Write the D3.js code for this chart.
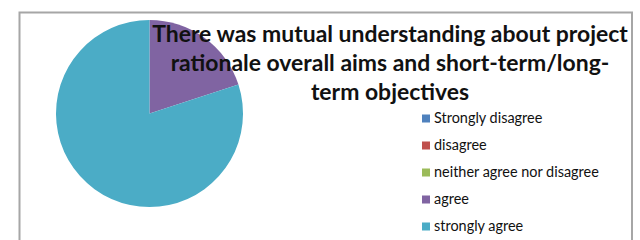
<!DOCTYPE html>
<html>
<head>
<meta charset="utf-8">
<script src="https://cdn.jsdelivr.net/npm/d3@7"></script>
<style>
body { margin: 0; background: #fff; }
svg { display: block; }
</style>
</head>
<body>
<script>
var categories = ["Strongly disagree", "disagree", "neither agree nor disagree", "agree", "strongly agree"];
var counts = [0, 0, 0, 2, 8];
var colors = ["#4F81BD", "#C0504D", "#9BBB59", "#8064A2", "#4BACC6"];
var titleLines = ["There was mutual understanding about project",
                  "rationale overall aims and short-term/long-",
                  "term objectives"];

var width = 640, height = 240;

var svg = d3.select("body").append("svg")
    .attr("width", width)
    .attr("height", height);

// chart frame (bottom edge falls outside the crop)
svg.append("path")
    .attr("d", "M19.5,260 V12.5 H632 V260")
    .attr("fill", "none")
    .attr("stroke", "#a6a6a6")
    .attr("stroke-width", 2);

var radius = 93.5;
var pieg = svg.append("g")
    .attr("transform", "translate(" + 149.5 + "," + 113.5 + ")");

var pie = d3.pie().sort(null).value(function(d) { return d; });
var arc = d3.arc().innerRadius(0).outerRadius(radius);

pieg.selectAll("path")
    .data(pie(counts))
    .enter().append("path")
    .attr("d", arc)
    .attr("fill", function(d, i) { return colors[i]; });

// title, drawn over the pie
var font = "Lato, 'Open Sans', sans-serif";
var titleg = svg.append("g");
var titleText = titleg.selectAll("text")
    .data(titleLines)
    .enter().append("text")
    .attr("x", 390)
    .attr("y", function(d, i) { return 41.5 + i * 29; })
    .attr("text-anchor", "middle")
    .attr("font-family", font)
    .attr("font-weight", "bold")
    .attr("font-size", 22)
    .attr("fill", "#111")
    .text(function(d) { return d; });

// fit first title line to ~476px
var w0 = titleText.node().getComputedTextLength();
titleText.attr("font-size", 22 * 476 / w0);

// legend
var legend = svg.append("g");
var rows = legend.selectAll("g")
    .data(categories)
    .enter().append("g")
    .attr("transform", function(d, i) { return "translate(422," + (118.5 + i * 27) + ")"; });

rows.append("rect")
    .attr("x", 0)
    .attr("y", -4)
    .attr("width", 8)
    .attr("height", 8)
    .attr("fill", function(d, i) { return colors[i]; });

var legText = rows.append("text")
    .attr("x", 12)
    .attr("y", 4.5)
    .attr("font-family", font)
    .attr("font-size", 12)
    .attr("fill", "#111")
    .text(function(d) { return d; });

var w2 = legText.filter(function(d, i) { return i === 2; }).node().getComputedTextLength();
legText.attr("font-size", 12 * 165 / w2);
</script>
</body>
</html>
